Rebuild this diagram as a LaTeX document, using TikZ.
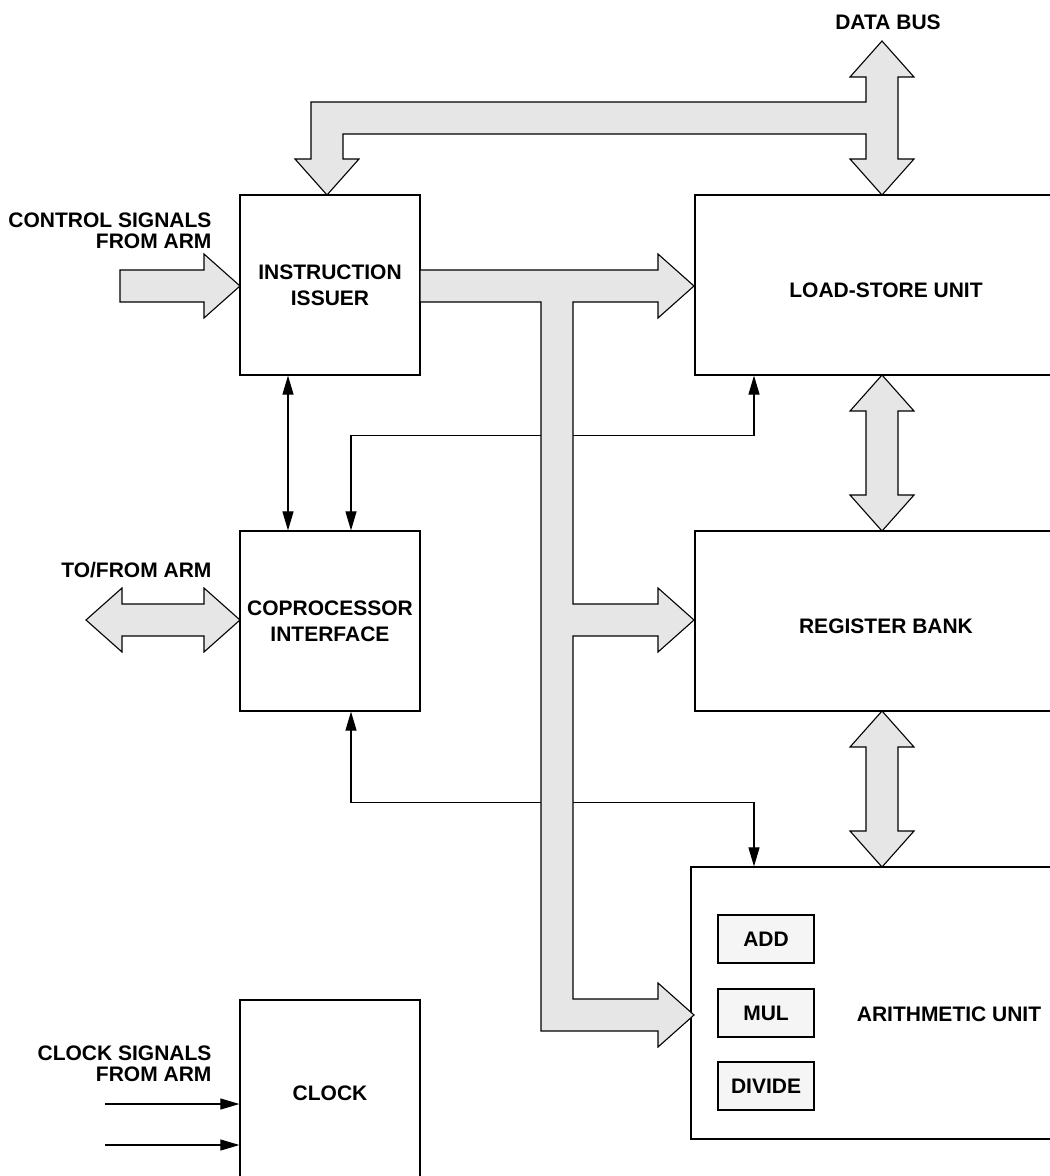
\documentclass[tikz,border=0pt]{standalone}
\usepackage{fontspec}
\setmainfont{Liberation Sans}
\usetikzlibrary{arrows.meta}

\definecolor{busgray}{HTML}{E6E6E6}
\definecolor{fugray}{HTML}{F5F5F5}

\begin{document}
\begin{tikzpicture}[
        x=1pt, y=-1pt, >={Triangle[length=19pt, width=11pt]},
        font=\fontsize{21}{21}\selectfont\bfseries,
        unit/.style={rectangle, draw=black, line width=1.2pt, minimum width=180pt, minimum height=180pt, align=center, inner sep=0pt},
        fu/.style={rectangle, draw=black, fill=fugray, line width=1.2pt, minimum width=96pt, minimum height=48pt, inner sep=0pt},
        sig/.style={line width=1.1pt},
        fat/.style={draw=black, fill=busgray, line width=1.1pt, line join=miter},
        lbl/.style={anchor=east, align=right}
    ]

        \useasboundingbox (0,0) rectangle (1050,1176);
        \clip (0,0) rectangle (1050,1176);

        % --- LEFT COLUMN ---
        \node[unit] (is) at (330,285) {INSTRUCTION\\[5pt]ISSUER};
        \node[unit] (cp) at (330,621) {COPROCESSOR\\[5pt]INTERFACE};
        \node[unit, minimum height=186pt] (clk) at (330,1093) {CLOCK};

        % --- RIGHT COLUMN ---
        \node[unit, minimum width=382pt, text height=26pt] (ls) at (886,285) {LOAD-STORE UNIT};
        \node[unit, minimum width=382pt, text height=26pt] (rb) at (886,621) {REGISTER BANK};
        \node[unit, minimum width=386pt, minimum height=272pt] (au) at (884,1003) {};
        \node (aulabel) at (949,1014) {ARITHMETIC UNIT};

        % Functional units
        \node[fu] (add) at (766,939) {ADD};
        \node[fu] (mul) at (766,1013) {MUL};
        \node[fu] (div) at (766,1086) {DIVIDE};

        % --- OUTSIDE LABELS ---
        \node[lbl] (ctrllabel) at (215,231) {CONTROL SIGNALS\\FROM ARM};
        \node[lbl] (armlabel) at (215,570) {TO/FROM ARM};
        \node[lbl] (clklabel) at (215,1064) {CLOCK SIGNALS\\FROM ARM};
        \node (dblabel) at (888,22) {DATA BUS};

        % --- THIN SIGNAL LINES ---
        \draw[sig, <->] ([xshift=-42pt]is.south) -- ([xshift=-42pt]cp.north);
        \draw[sig, <->] ([xshift=21pt]cp.north) -- ++(0,-95) -| ([xshift=-132pt]ls.south);
        \draw[sig, <->] ([xshift=21pt]cp.south) -- ++(0,91) -| ([xshift=-130pt]au.north);
        \draw[sig, ->] ([xshift=-134pt, yshift=-11pt]clk.west) -- ([yshift=-11pt]clk.west);
        \draw[sig, ->] ([xshift=-134pt, yshift=-52pt]clk.west) -- ([yshift=-52pt]clk.west);

        % --- FAT ARROWS ---
        % Control signals into issuer
        \draw[fat] (120,270) -- (204,270) -- (204,254) -- (240,286) -- (204,318) -- (204,302) -- (120,302) -- cycle;
        % To/from ARM
        \draw[fat] (86,620) -- (122,588) -- (122,604) -- (204,604) -- (204,588) -- (240,620)
            -- (204,652) -- (204,636) -- (122,636) -- (122,652) -- cycle;
        % Load-store <-> register bank
        \draw[fat] (882,375) -- (914,411) -- (898,411) -- (898,495) -- (914,495) -- (882,531)
            -- (850,495) -- (866,495) -- (866,411) -- (850,411) -- cycle;
        % Register bank <-> arithmetic unit
        \draw[fat] (882,711) -- (914,747) -- (898,747) -- (898,831) -- (914,831) -- (882,867)
            -- (850,831) -- (866,831) -- (866,747) -- (850,747) -- cycle;
        % Data bus
        \draw[fat] (882,41) -- (914,77) -- (898,77) -- (898,159) -- (914,159) -- (882,195)
            -- (850,159) -- (866,159) -- (866,134) -- (343,134) -- (343,159) -- (359,159)
            -- (327,195) -- (295,159) -- (311,159) -- (311,102) -- (866,102) -- (866,77)
            -- (850,77) -- cycle;
        % Instruction bus
        \draw[fat] (420,270) -- (658,270) -- (658,254) -- (694,286) -- (658,318) -- (658,302)
            -- (573,302) -- (573,604) -- (658,604) -- (658,588) -- (694,620) -- (658,652)
            -- (658,636) -- (573,636) -- (573,999) -- (658,999) -- (658,983) -- (694,1015)
            -- (658,1047) -- (658,1031) -- (541,1031) -- (541,302) -- (420,302) -- cycle;

\end{tikzpicture}
\end{document}
